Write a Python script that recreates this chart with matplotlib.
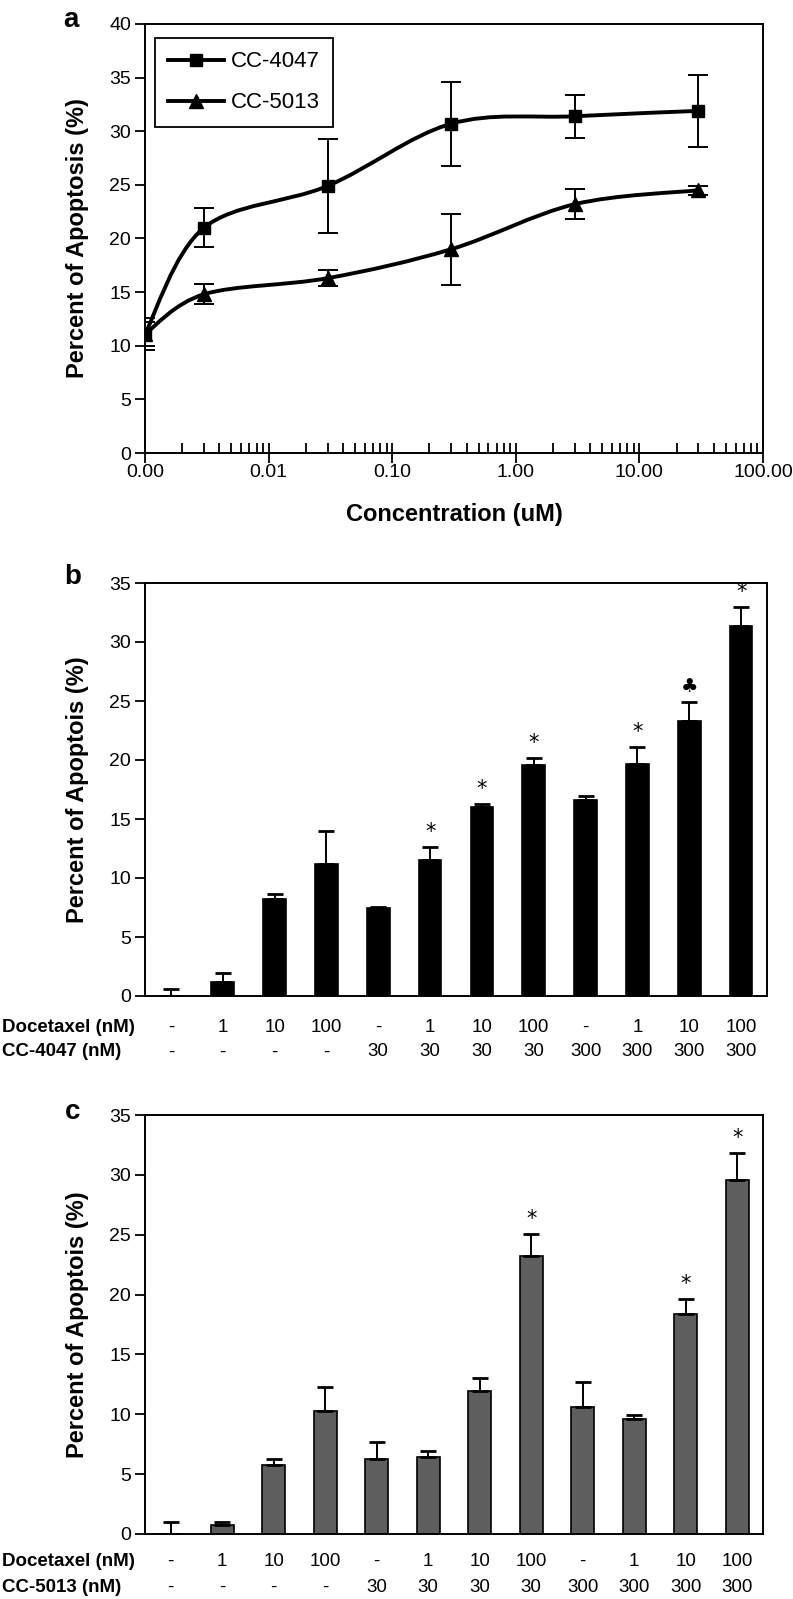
import numpy as np
import matplotlib
matplotlib.use('Agg')
import matplotlib.pyplot as plt
from matplotlib.path import Path
from matplotlib.patches import PathPatch
from matplotlib.lines import Line2D
from matplotlib.ticker import FixedLocator, LogLocator, FormatStrFormatter, NullFormatter
from matplotlib.transforms import blended_transform_factory

plt.rcParams['font.family'] = ['Liberation Sans', 'DejaVu Sans']

# panel a: apoptosis vs concentration (uM)
conc = [0.001, 0.003, 0.03, 0.3, 3, 30]
cc4047 = [11.1, 21.0, 24.9, 30.7, 31.4, 31.9]
cc4047_err = [1.5, 1.8, 4.4, 3.9, 2.0, 3.35]
cc5013 = [11.1, 14.8, 16.3, 19.0, 23.2, 24.5]
cc5013_err = [1.1, 0.95, 0.75, 3.3, 1.4, 0.4]
conc_ticks = [0.001, 0.01, 0.1, 1, 10, 100]

# panels b and c: combination treatments
docetaxel = ['-', '1', '10', '100', '-', '1', '10', '100', '-', '1', '10', '100']
drug_nM = ['-', '-', '-', '-', '30', '30', '30', '30', '300', '300', '300', '300']
apop_b = [0.0, 1.15, 8.2, 11.15, 7.45, 11.55, 16.0, 19.55, 16.65, 19.7, 23.3, 31.35]
err_b = [0.62, 0.77, 0.48, 2.8, 0.1, 1.07, 0.25, 0.62, 0.27, 1.37, 1.62, 1.6]
marks_b = ['', '', '', '', '', '*', '*', '*', '', '*', '\u2663', '*']
apop_c = [0.0, 0.78, 5.77, 10.28, 6.3, 6.43, 11.92, 23.2, 10.61, 9.61, 18.35, 29.6]
err_c = [1.0, 0.22, 0.53, 2.0, 1.39, 0.51, 1.14, 1.83, 2.09, 0.36, 1.28, 2.2]
marks_c = ['', '', '', '', '', '', '', '*', '', '', '*', '*']

W, H = 793, 1599


def px(x):
    return x / W


def py(y):
    return 1 - y / H


def smooth_path(xs, ys):
    # excel-like smoothed line, built as bezier segments in log-x space
    pts = np.column_stack([np.log10(xs), np.asarray(ys, float)])
    n = len(pts)
    verts = [pts[0]]
    codes = [Path.MOVETO]
    for i in range(n - 1):
        p0 = pts[max(i - 1, 0)]
        p1 = pts[i]
        p2 = pts[i + 1]
        p3 = pts[min(i + 2, n - 1)]
        verts += [p1 + (p2 - p0) / 6, p2 - (p3 - p1) / 6, p2]
        codes += [Path.CURVE4] * 3
    verts = np.array(verts)
    verts[:, 0] = 10 ** verts[:, 0]
    return Path(verts, codes)


fig = plt.figure(figsize=(W / 100, H / 100), dpi=100)

# ---- panel a
ax = fig.add_axes([px(145), py(453), px(763) - px(145), py(24) - py(453)])
ax.set_xscale('log')
for vals, errs, mk in [(cc4047, cc4047_err, 's'), (cc5013, cc5013_err, '^')]:
    ax.add_patch(PathPatch(smooth_path(conc, vals), fill=False, lw=2.8, edgecolor='k',
                           capstyle='round', joinstyle='round', zorder=3))
    ax.errorbar(conc, vals, yerr=errs, fmt='none', ecolor='k', elinewidth=1.4,
                capsize=7, capthick=1.4, zorder=4)
    ax.plot(conc, vals, ls='none', marker=mk, ms=10 if mk == '^' else 9, color='k', zorder=5)
ax.set_xlim(0.001, 100)
ax.set_ylim(0, 40)
ax.set_yticks(np.arange(0, 41, 5))
ax.xaxis.set_major_locator(FixedLocator(conc_ticks))
ax.xaxis.set_major_formatter(FormatStrFormatter('%.2f'))
ax.xaxis.set_minor_locator(LogLocator(base=10, subs=np.arange(2, 10)))
ax.xaxis.set_minor_formatter(NullFormatter())
ax.tick_params(axis='x', which='major', direction='inout', length=14, width=1.3, labelsize=14, pad=1)
ax.tick_params(axis='x', which='minor', direction='in', length=7, width=1.3)
ax.tick_params(axis='y', direction='out', length=7, width=1.3, labelsize=14, pad=3)
for s in ax.spines.values():
    s.set_linewidth(1.4)
handles = [Line2D([], [], color='k', lw=2.8, marker='s', ms=9),
           Line2D([], [], color='k', lw=2.8, marker='^', ms=10)]
leg = ax.legend(handles, ['CC-4047', 'CC-5013'], loc='upper left', bbox_to_anchor=(0.016, 0.967),
                borderaxespad=0, fontsize=16, fancybox=False, edgecolor='k', framealpha=1,
                handlelength=2.5, handletextpad=0.3, labelspacing=0.9, borderpad=0.6)
leg.get_frame().set_linewidth(1.3)

fig.text(px(71), py(20), 'a', fontsize=20, fontweight='bold', ha='center', va='center')
fig.text(px(78), py(238), 'Percent of Apoptosis (%)', fontsize=17, fontweight='bold',
         rotation=90, ha='center', va='center')
fig.text(px(454), py(515), 'Concentration (uM)', fontsize=17, fontweight='bold',
         ha='center', va='center')


# ---- panels b and c
def bar_panel(box, vals, errs, marks, color, letter, letter_y, row2_name, row_y):
    top, bottom, right = box
    ax = fig.add_axes([px(145), py(bottom), px(right) - px(145), py(top) - py(bottom)])
    idx = np.arange(len(vals))
    ax.bar(idx, vals, width=0.44, color=color, edgecolor='k', linewidth=1.2,
           yerr=[np.zeros(len(errs)), errs],
           error_kw=dict(ecolor='k', elinewidth=1.4, capsize=6, capthick=2))
    ax.set_xlim(-0.5, len(vals) - 0.5)
    ax.set_ylim(0, 35)
    ax.set_yticks(np.arange(0, 36, 5))
    ax.set_xticks([])
    ax.tick_params(axis='y', direction='out', length=7, width=1.3, labelsize=14, pad=3)
    for s in ax.spines.values():
        s.set_linewidth(1.4)
    for i, m in enumerate(marks):
        if m:
            ax.annotate(m, (i, vals[i] + errs[i]), xytext=(0, 11), textcoords='offset points',
                        ha='center', va='center', fontsize=15 if m == '*' else 14,
                        family=['DejaVu Sans'])
    tr = blended_transform_factory(ax.transData, fig.transFigure)
    for i in idx:
        ax.text(i, py(row_y[0]), docetaxel[i], transform=tr, ha='center', va='center', fontsize=13.5)
        ax.text(i, py(row_y[1]), drug_nM[i], transform=tr, ha='center', va='center', fontsize=13.5)
    fig.text(px(2), py(row_y[0]), 'Docetaxel (nM)', fontsize=13.5, fontweight='bold', ha='left', va='center')
    fig.text(px(2), py(row_y[1]), row2_name, fontsize=13.5, fontweight='bold', ha='left', va='center')
    fig.text(px(73), py(letter_y), letter, fontsize=20, fontweight='bold', ha='center', va='center')
    fig.text(px(78), py((top + bottom) / 2), 'Percent of Apoptois (%)', fontsize=17,
             fontweight='bold', rotation=90, ha='center', va='center')
    return ax


bar_panel((583, 996, 767), apop_b, err_b, marks_b, 'k', 'b', 577, 'CC-4047 (nM)', (1027, 1052))
bar_panel((1115, 1534, 763), apop_c, err_c, marks_c, '#5e5e5e', 'c', 1112, 'CC-5013 (nM)', (1561, 1587))

fig.savefig('out.png', dpi=100)
